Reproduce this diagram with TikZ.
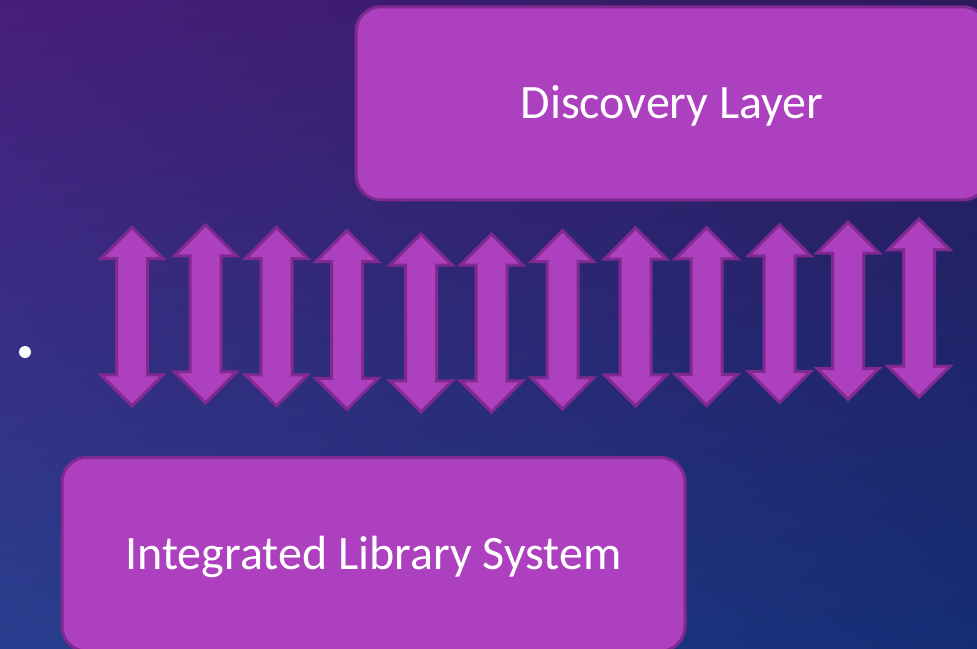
\documentclass[tikz,border=0pt]{standalone}
\usepackage{fontspec}
\setmainfont{Carlito}
\usetikzlibrary{shadings}
\definecolor{boxfill}{RGB}{173,64,191}
\definecolor{boxline}{RGB}{128,42,145}
\definecolor{bgUL}{RGB}{72,30,124}
\definecolor{bgUR}{RGB}{44,26,92}
\definecolor{bgLL}{RGB}{40,62,142}
\definecolor{bgLR}{RGB}{20,46,118}
\tikzset{
  layerbox/.style={draw=boxline, fill=boxfill, line width=3pt, rounded corners=25pt,
    text=white, font=\fontsize{48}{54}\selectfont, inner sep=0pt,
    text height=30pt, text depth=0pt},
  dblarrow/.style={draw=boxline, fill=boxfill, line width=3pt, line join=miter},
}
\begin{document}
\begin{tikzpicture}[x=1pt,y=-1pt]
\useasboundingbox (0,0) rectangle (977,648);
\shade[upper left=bgUL, upper right=bgUR, lower left=bgLL, lower right=bgLR] (0,0) rectangle (977,648);
% bullet
\fill[white] (25,352) circle (6);
% boxes
\node[layerbox, minimum width=632pt, minimum height=193pt] (disc) at (672,103.3) {Discovery Layer};
\node[layerbox, minimum width=623pt, minimum height=194pt] (ils) at (373.5,554.3) {Integrated Library System};
% arrows
\foreach \i/\c/\t/\b in {1/132/225.5/408, 2/205.5/222.7/405, 3/276.5/225.5/408, 4/347/228.5/411.5,
  5/421/232/414, 6/491.5/232/414, 7/562.5/228.5/411, 8/635.5/226/408,
  9/706.5/225.7/407.5, 10/779.5/222.7/404.5, 11/848/220/401.7, 12/919/216.8/399.3}{
  \draw[dblarrow] (\c,\t+2.1) -- ++(31,31) -- ++(-15.5,0) -- (\c+15.5,\b-33.1) -- ++(15.5,0)
     -- (\c,\b-2.1) -- ++(-31,-31) -- ++(15.5,0) -- (\c-15.5,\t+33.1) -- ++(-15.5,0) -- cycle;
}
\end{tikzpicture}
\end{document}
